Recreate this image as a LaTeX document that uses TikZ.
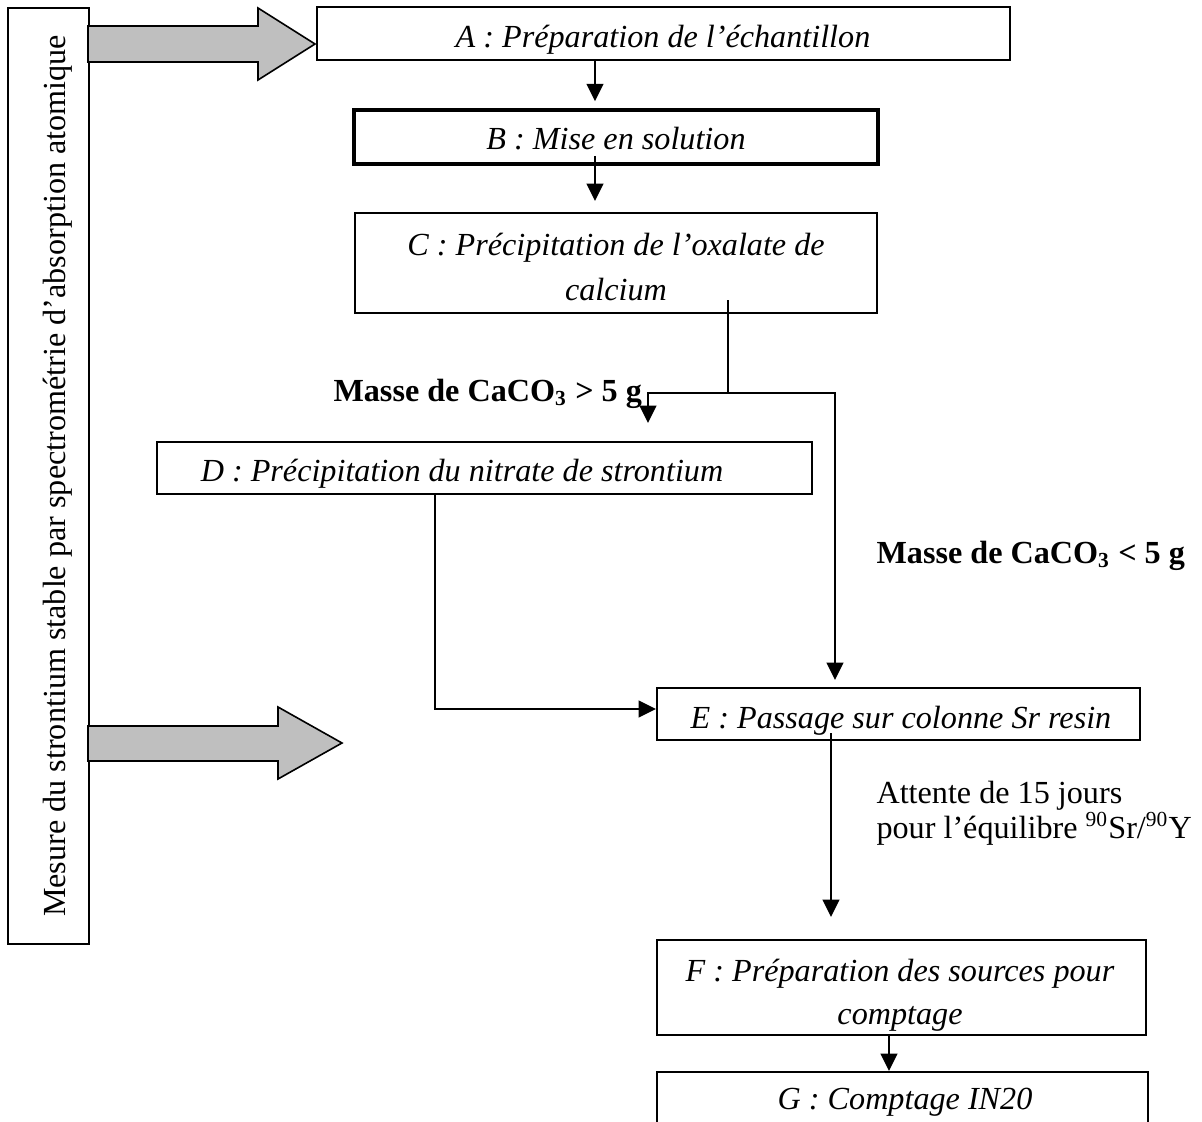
\documentclass[tikz,border=0pt]{standalone}
\usepackage{fontspec}
\setmainfont{Liberation Serif}
\usetikzlibrary{arrows.meta,calc}
\newcommand\pxu[1]{#1*0.373pt}
\begin{document}
\begin{tikzpicture}[x=0.373pt,y=-0.373pt,
  box/.style={draw, line width=0.85pt, inner sep=0pt},
  txt/.style={font=\fontsize{12pt}{14pt}\selectfont\itshape, inner sep=0pt, anchor=base},
  plain/.style={font=\fontsize{12pt}{14pt}\selectfont, inner sep=0pt, anchor=base west},
  lbl/.style={font=\fontsize{12pt}{14pt}\selectfont\bfseries, inner sep=0pt, anchor=base west},
  ln/.style={line width=0.8pt},
  arr/.style={line width=0.8pt, -{Triangle[length=6.4pt,width=6.2pt]}},
  garrow/.style={fill=black!25, draw=black, line width=0.6pt, line join=miter}]
\useasboundingbox (0,0) rectangle (1202,1121);
\clip (0,0) rectangle (1202,1121);

% left box with vertical text
\node[box, line width=0.65pt, minimum width=\pxu{81}, minimum height=\pxu{936}] (L) at (48.5,476) {};
\node[font=\fontsize{12pt}{14pt}\selectfont, inner sep=0pt, anchor=base, rotate=90] (Lt) at (65,476)
  {Mesure du strontium stable par spectrométrie d’absorption atomique};

% grey arrows
\draw[garrow] (88,26) -- (258,26) -- (258,8) -- (315,44) -- (258,80) -- (258,62) -- (88,62) -- cycle;
\draw[garrow] (88,726) -- (278,726) -- (278,707) -- (342,743) -- (278,779) -- (278,761) -- (88,761) -- cycle;

% boxes
\node[box, minimum width=\pxu{693}, minimum height=\pxu{53}] (A) at (663.5,33.5) {};
\node[box, line width=1.4pt, minimum width=\pxu{524}, minimum height=\pxu{54}] (B) at (616,137) {};
\node[box, minimum width=\pxu{522}, minimum height=\pxu{100}] (C) at (616,263) {};
\node[box, minimum width=\pxu{655}, minimum height=\pxu{52}] (D) at (484.5,468) {};
\node[box, minimum width=\pxu{483}, minimum height=\pxu{52}] (E) at (898.5,714) {};
\node[box, minimum width=\pxu{489}, minimum height=\pxu{95}] (F) at (901.5,987.5) {};
\node[box, minimum width=\pxu{491}, minimum height=\pxu{54}] (G) at (902.5,1099) {};

% box texts
\node[txt] (At) at (663,48) {A : Préparation de l’échantillon};
\node[txt] (Bt) at (616,150) {B : Mise en solution};
\node[txt] (Ct1) at (616,256) {C : Précipitation de l’oxalate de};
\node[txt] (Ct2) at (616,301) {calcium};
\node[txt] (Dt) at (462,481) {D : Précipitation du nitrate de strontium};
\node[txt] (Et) at (901,728) {E : Passage sur colonne Sr resin};
\node[txt] (Ft1) at (900,981) {F : Préparation des sources pour};
\node[txt] (Ft2) at (900,1024) {comptage};
\node[txt] (Gt) at (905,1109) {G : Comptage IN20};

% labels
\node[lbl] (M1) at (333,401) {Masse de CaCO\textsubscript{3} > 5 g};
\node[lbl] (M2) at (876,563) {Masse de CaCO\textsubscript{3} < 5 g};
\node[plain] (W1) at (876,803) {Attente de 15 jours};
\node[plain] (W2) at (876,838) {pour l’équilibre \textsuperscript{90}Sr/\textsuperscript{90}Y};

% connectors
\coordinate (xab) at (595,0);
\draw[arr, shorten >=2.6pt] (A.south -| xab) -- (B.north -| xab);
\draw[arr, shorten >=4.1pt] ($(B.south -| xab)+(0,-10)$) -- (C.north -| xab);

\coordinate (xc) at (728,0);
\coordinate (csplit) at (728,393);
\coordinate (xdd) at (648,0);
\coordinate (xr) at (835,0);
\draw[ln] ($(C.south -| xc)+(0,-14)$) -- (csplit);
\draw[arr, shorten >=6.7pt] (csplit) -| (D.north -| xdd);
\draw[arr, shorten >=2.6pt] (csplit) -| (E.north -| xr);

\coordinate (xd) at (435,0);
\coordinate (ey) at (0,709);
\draw[arr] (D.south -| xd) |- (E.west |- ey);

\coordinate (xe) at (831,0);
\draw[arr, shorten >=8.2pt] ($(E.south -| xe)+(0,-8)$) -- (F.north -| xe);

\coordinate (xf) at (889,0);
\draw[arr] (F.south -| xf) -- (G.north -| xf);
\end{tikzpicture}
\end{document}
